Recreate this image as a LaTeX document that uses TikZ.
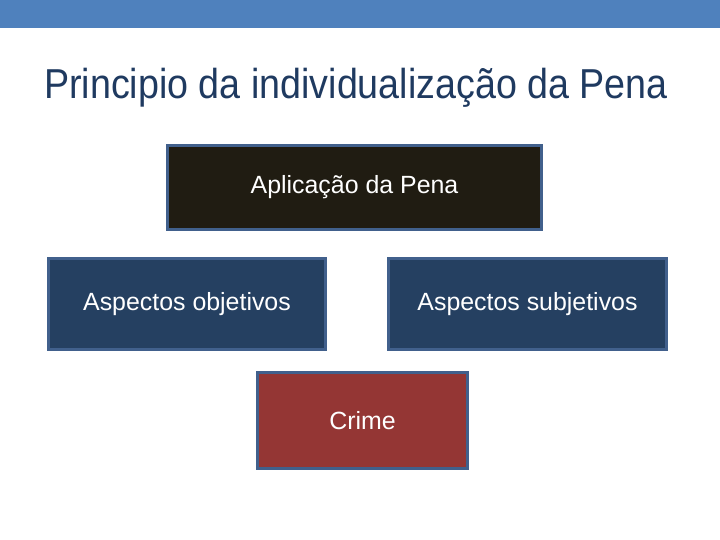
\documentclass[tikz,border=0pt]{standalone}
\usepackage{fontspec}
\setmainfont{Liberation Sans}
\usetikzlibrary{positioning}
\definecolor{barblue}{RGB}{79,129,189}
\definecolor{titlenavy}{RGB}{31,58,96}
\definecolor{edgeblue}{RGB}{65,96,140}
\definecolor{boxblack}{RGB}{32,28,18}
\definecolor{boxnavy}{RGB}{37,64,97}
\definecolor{boxred}{RGB}{148,54,52}
\tikzset{
	box/.style={draw=edgeblue, line width=2.5bp, text=white, font=\fontsize{25}{30}\selectfont, inner sep=0pt}
}

\begin{document}
\begin{tikzpicture}[x=1bp, y=-1bp]
	\useasboundingbox (0,0) rectangle (720,540);
	% --- header ---
	\fill[barblue] (0,0) rectangle (720,28);
	\node[text=titlenavy, font=\fontsize{42}{48}\selectfont, xscale=0.9, anchor=base] (title) at (356,99) {Principio da individualização da Pena};

	% --- boxes ---
	\node[box, fill=boxblack, minimum width=374bp, minimum height=84bp] (pena) at (354.5,187.5) {Aplicação da Pena};
	\node[box, fill=boxnavy, minimum width=277bp, minimum height=91bp] (obj) at (187,304) {Aspectos objetivos};
	\node[box, fill=boxnavy, minimum width=278bp, minimum height=91bp] (subj) at (527.5,304) {Aspectos subjetivos};
	\node[box, fill=boxred, minimum width=210bp, minimum height=96bp] (crime) at (362.5,420.5) {Crime};

\end{tikzpicture}
\end{document}
